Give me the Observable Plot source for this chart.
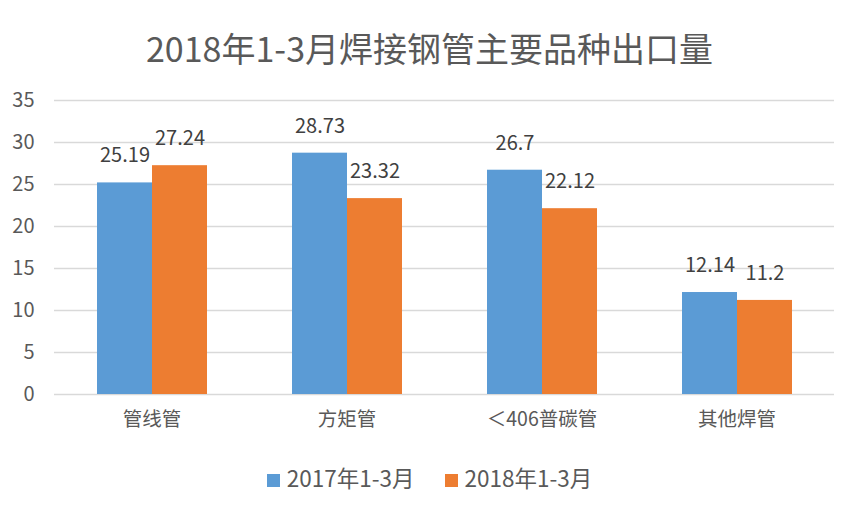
<!DOCTYPE html>
<html><head><meta charset="utf-8">
<script src="https://cdn.jsdelivr.net/npm/d3@7"></script>
<script src="https://cdn.jsdelivr.net/npm/@observablehq/plot@0.6"></script>
<style>
body{margin:0;background:#fff;font-family:"Noto Sans CJK SC","Noto Sans",sans-serif;}
#wrap{position:relative;width:859px;height:510px;}
#title{position:absolute;top:26px;left:0;width:859px;text-align:center;font-size:34px;line-height:44px;color:#595959;}
#chart{position:absolute;top:80px;left:0;}
#legend{position:absolute;top:462px;left:0;width:859px;display:flex;justify-content:center;gap:30px;font-size:22.5px;line-height:30px;color:#595959;}
#legend span.sw{display:inline-block;width:13px;height:13px;margin-right:7px;vertical-align:0px;}
</style></head>
<body><div id="wrap"><div id="title">2018年1-3月焊接钢管主要品种出口量</div><div id="chart"></div><div id="legend"></div></div>
<script>
const categories = ["管线管","方矩管","＜406普碳管","其他焊管"];
const seriesNames = ["2017年1-3月","2018年1-3月"];
const values2017 = [25.19, 28.73, 26.7, 12.14];
const values2018 = [27.24, 23.32, 22.12, 11.2];
const labels2017 = ["25.19","28.73","26.7","12.14"];
const labels2018 = ["27.24","23.32","22.12","11.2"];
const colors = ["#5B9BD5","#ED7D31"];
const yTicks = [0,5,10,15,20,25,30,35];

const data = [];
categories.forEach((c,i)=>{
  data.push({cat:c, series:seriesNames[0], value:values2017[i], label:labels2017[i]});
  data.push({cat:c, series:seriesNames[1], value:values2018[i], label:labels2018[i]});
});

const chart = Plot.plot({
  width: 859, height: 370,
  marginLeft: 54, marginRight: 24, marginTop: 20, marginBottom: 56,
  style: {fontFamily: '"Noto Sans CJK SC","Noto Sans",sans-serif', fontSize: "19px", color: "#595959", background: "#fff", overflow: "visible"},
  fx: {domain: categories, paddingInner: 0.43, paddingOuter: 0.215, label: null},
  x: {domain: seriesNames, padding: 0, axis: null},
  y: {domain: [0,35], ticks: yTicks, label: null},
  color: {domain: seriesNames, range: colors},
  marks: [
    Plot.ruleY(yTicks, {stroke: "#D9D9D9", strokeWidth: 1.3, insetLeft: -42, insetRight: -42}),
    Plot.axisY({ticks: yTicks, tickSize: 0, tickPadding: 62, label: null, fontSize: 20}),
    Plot.axisFx({anchor: "bottom", tickSize: 0, tickPadding: 18, label: null, fontSize: 19.5}),
    Plot.barY(data, {fx: "cat", x: "series", y: "value", fill: "series"}),
    Plot.text(data, {fx: "cat", x: "series", y: "value", text: "label", dy: -27, fontSize: 20, fill: "#404040"})
  ]
});
document.getElementById("chart").appendChild(chart);

const lg = document.getElementById("legend");
seriesNames.forEach((s,i)=>{
  const d = document.createElement("div");
  d.innerHTML = `<span class="sw" style="background:${colors[i]}"></span>${s}`;
  lg.appendChild(d);
});
</script></body></html>
